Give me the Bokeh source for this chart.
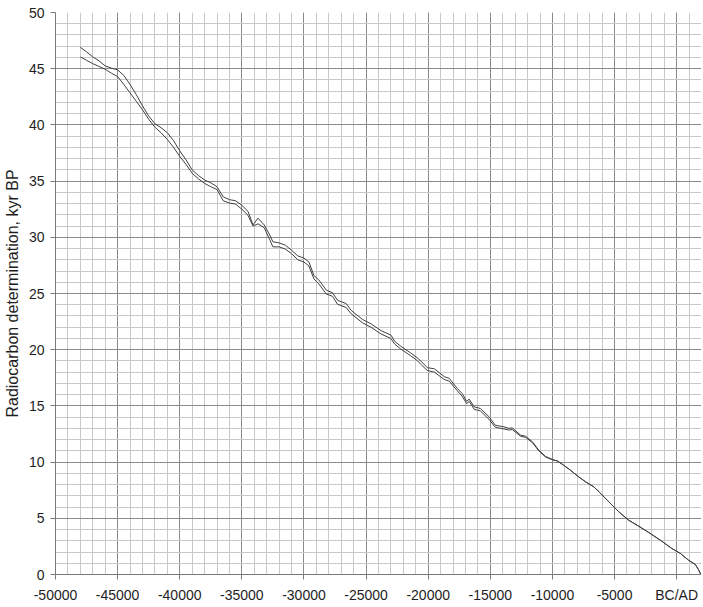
from bokeh.plotting import figure
from bokeh.models import FixedTicker, Range1d
from bokeh.embed import file_html
from bokeh.resources import INLINE

# Calendar year (negative = BC), radiocarbon age (kyr BP) upper and lower bounds
years = [-48000, -47500, -47000, -46500, -46000, -45500, -45000, -44500, -44000, -43500,
         -43000, -42500, -42000, -41500, -41000, -40500, -40000, -39500, -39000, -38500,
         -38000, -37500, -37000, -36500, -36000, -35500, -35000, -34500, -34100, -33700,
         -33200, -32800, -32500, -32000, -31500, -31000, -30500, -30000, -29600, -29200,
         -28800, -28200, -27700, -27300, -26600, -26200, -25300, -24600, -23800, -23000,
         -22700, -22200, -21400, -20900, -20500, -20070, -19500, -18700, -18300, -17660,
         -17260, -16900, -16700, -16300, -15800, -15100, -14600, -13900, -13500, -13240,
         -12560, -12160, -11600, -11100, -10550, -10000, -9600, -9100, -8550, -7900,
         -7340, -6670, -6200, -5400, -4660, -3860, -3190, -2250, -1310, -380,
         300, 960, 1500, 1750, 1950]

upper = [46.9, 46.5, 46.05, 45.7, 45.25, 45.05, 44.9, 44.4, 43.6, 42.7,
         41.7, 40.8, 40.1, 39.75, 39.3, 38.6, 37.7, 36.9, 36.0, 35.5,
         35.1, 34.85, 34.5, 33.6, 33.35, 33.25, 32.85, 32.3, 31.1, 31.7,
         31.1, 30.3, 29.6, 29.5, 29.3, 28.85, 28.35, 28.15, 27.8, 26.6,
         26.2, 25.3, 25.06, 24.4, 24.1, 23.5, 22.7, 22.3, 21.7, 21.3,
         20.75, 20.3, 19.7, 19.3, 18.9, 18.4, 18.3, 17.6, 17.45, 16.55,
         16.1, 15.4, 15.6, 14.92, 14.77, 14.03, 13.28, 13.14, 13.0, 13.05,
         12.4, 12.3, 11.8, 11.06, 10.5, 10.23, 10.1, 9.73, 9.28, 8.7,
         8.25, 7.8, 7.3, 6.4, 5.58, 4.83, 4.39, 3.74, 3.05, 2.31,
         1.87, 1.27, 0.89, 0.45, 0.0]

lower = [46.05, 45.75, 45.45, 45.2, 44.95, 44.6, 44.3, 43.6, 42.85, 42.1,
         41.35, 40.5, 39.8, 39.3, 38.7, 38.0, 37.2, 36.5, 35.7, 35.2,
         34.8, 34.5, 34.25, 33.25, 33.05, 32.95, 32.5, 31.95, 31.0, 31.2,
         30.85, 29.9, 29.15, 29.15, 28.95, 28.55, 28.0, 27.8, 27.45, 26.3,
         25.85, 24.95, 24.75, 24.05, 23.75, 23.2, 22.4, 22.0, 21.4, 21.0,
         20.5, 20.05, 19.45, 19.05, 18.6, 18.15, 18.0, 17.35, 17.2, 16.35,
         15.85, 15.2, 15.4, 14.7, 14.55, 13.8, 13.1, 12.95, 12.85, 12.9,
         12.3, 12.2, 11.72, 11.0, 10.45, 10.2, 10.1, 9.73, 9.28, 8.7,
         8.25, 7.8, 7.3, 6.4, 5.58, 4.83, 4.39, 3.74, 3.05, 2.31,
         1.87, 1.27, 0.89, 0.45, 0.0]

x_major = list(range(-50000, 1, 5000))
x_minor = list(range(-50000, 2001, 1000))
x_labels = {t: str(t) for t in x_major}
x_labels[0] = "BC/AD"
y_major = list(range(0, 51, 5))
y_minor = list(range(0, 51, 1))

assert len(years) == len(upper) == len(lower)

p = figure(width=701, height=605,
           x_range=Range1d(-50000, 2000), y_range=Range1d(0, 50),
           output_backend="svg", toolbar_location=None,
           min_border_left=48, min_border_right=0, min_border_top=12, min_border_bottom=27)

xt = FixedTicker(ticks=x_major, minor_ticks=x_minor)
yt = FixedTicker(ticks=y_major, minor_ticks=y_minor)
p.xaxis.ticker = xt
p.yaxis.ticker = yt
p.xgrid.ticker = xt
p.ygrid.ticker = yt

for g in (p.xgrid, p.ygrid):
    g.grid_line_color = "#8a8a8a"
    g.grid_line_width = 1
    g.grid_line_alpha = 1.0
    g.minor_grid_line_color = "#c8c8c8"
    g.minor_grid_line_width = 1

p.outline_line_color = None
p.background_fill_color = "white"
p.border_fill_color = "white"

p.xaxis.major_label_overrides = x_labels
for ax in (p.xaxis, p.yaxis):
    ax.axis_line_color = "#7a7a7a"
    ax.major_tick_line_color = "#7a7a7a"
    ax.major_tick_in = 0
    ax.major_tick_out = 5
    ax.minor_tick_line_color = None
    ax.major_label_text_font = "Liberation Sans"
    ax.major_label_text_font_size = "14px"
    ax.major_label_text_color = "#1e1e1e"

p.xaxis.major_label_standoff = 7
p.yaxis.major_label_standoff = 6
p.yaxis.axis_label = "Radiocarbon determination, kyr BP"
p.yaxis.axis_label_text_font = "Liberation Sans"
p.yaxis.axis_label_text_font_size = "16px"
p.yaxis.axis_label_text_font_style = "normal"
p.yaxis.axis_label_text_color = "#1e1e1e"
p.yaxis.axis_label_standoff = 5

p.line(years, upper, line_color="#404040", line_width=1)
p.line(years, lower, line_color="#404040", line_width=1)

open("out.html", "w").write(file_html(p, INLINE))
